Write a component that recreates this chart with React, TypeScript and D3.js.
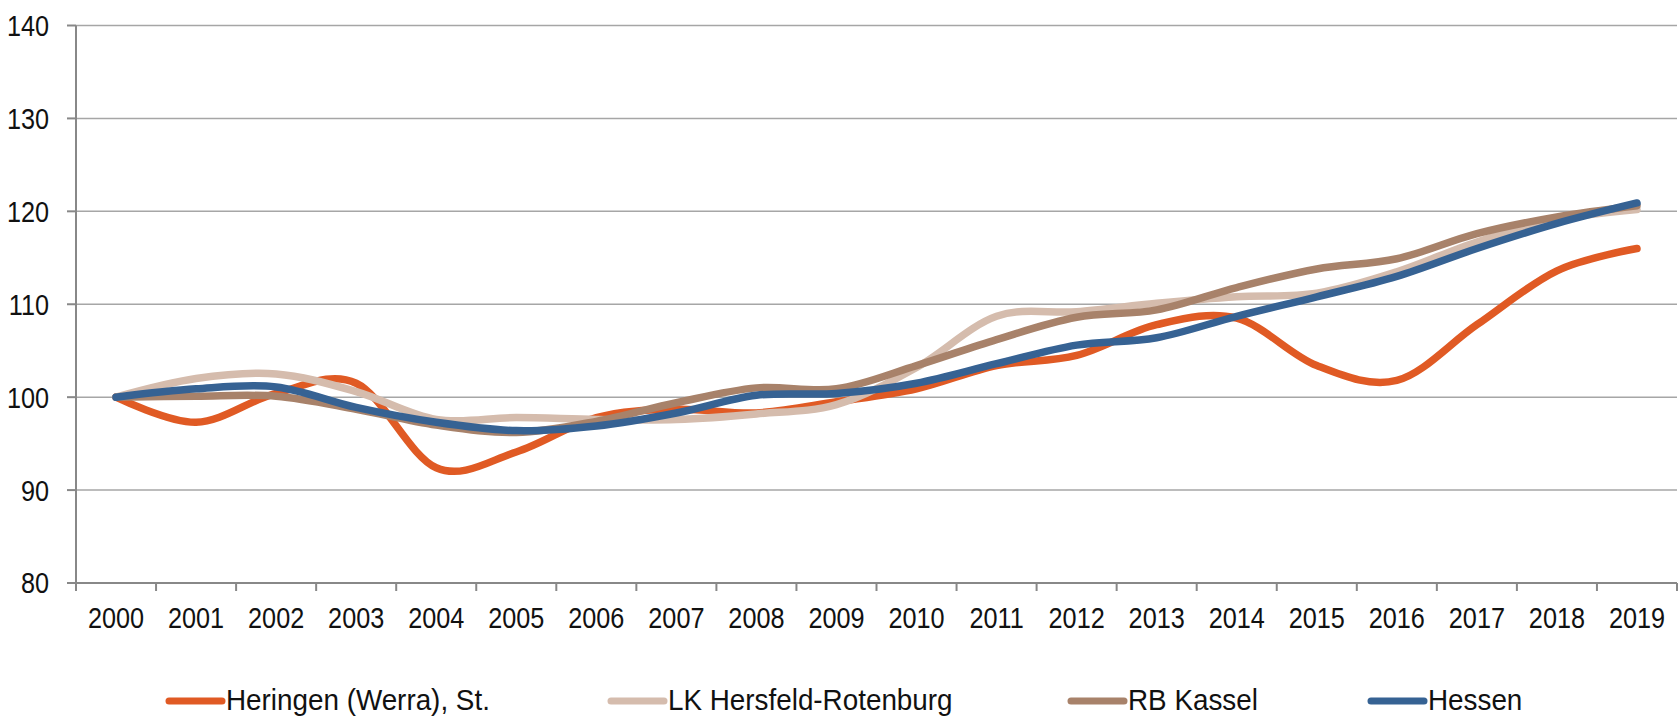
import { useEffect } from "react";
import * as d3 from "d3";

const years = ["2000", "2001", "2002", "2003", "2004", "2005", "2006", "2007", "2008", "2009",
  "2010", "2011", "2012", "2013", "2014", "2015", "2016", "2017", "2018", "2019"];

const heringen = [100, 97.3, 100.4, 101.5, 92.4, 94.1, 97.8, 98.7, 98.3, 99.5,
  100.9, 103.4, 104.5, 107.8, 108.5, 103.4, 101.8, 107.8, 113.6, 116.0];
const hersfeld = [100, 102.0, 102.5, 100.6, 97.6, 97.8, 97.6, 97.6, 98.2, 99.2,
  103.2, 108.7, 109.2, 110.1, 110.8, 111.2, 113.5, 116.7, 119.1, 120.2];
const kassel = [100, 100.1, 100.1, 98.7, 97.0, 96.2, 97.4, 99.4, 101.0, 100.9,
  103.4, 106.2, 108.6, 109.4, 111.8, 113.8, 114.9, 117.6, 119.4, 120.6];
const hessen = [100, 100.9, 101.1, 98.9, 97.3, 96.4, 96.9, 98.3, 100.2, 100.4,
  101.5, 103.6, 105.6, 106.4, 108.7, 110.8, 113.0, 116.0, 118.7, 120.9];

const seriesNames = ["Heringen (Werra), St.", "LK Hersfeld-Rotenburg", "RB Kassel", "Hessen"];
const seriesColors = ["#e05a24", "#d5bcad", "#a8826a", "#366293"];
const yTicks = [80, 90, 100, 110, 120, 130, 140];

const W = 1679, H = 724;
const font = '"Liberation Sans", Arial, sans-serif';

// text squeezed horizontally around its anchor point (narrow look)
function Label({ x, y, anchor = "start", dy = "0", squeeze = 0.87, children }: any) {
  return (
    <text transform={`translate(${x},${y}) scale(${squeeze},1)`} dy={dy} textAnchor={anchor}
      fontSize={29} fill="#111">{children}</text>
  );
}

export default function App() {
  useEffect(() => {
    document.body.style.margin = "0";
  }, []);

  const x = d3.scaleBand().domain(years).range([76, 1677]);
  const y = d3.scaleLinear().domain([80, 140]).range([583, 25.5]);
  const cx = (yr: string) => (x(yr) as number) + x.bandwidth() / 2;

  const line = d3.line<number>()
    .x((_, i) => cx(years[i]))
    .y((d) => y(d))
    .curve(d3.curveCardinal.tension(0));

  const data = [heringen, hersfeld, kassel, hessen];
  const legendX = [166, 608, 1068, 1368];
  const boundaries = years.map((yr) => x(yr) as number).concat([1677]);

  return (
    <svg width={W} height={H} style={{ display: "block", background: "#fff" }} fontFamily={font}>
      {yTicks.map((t) => (
        <g key={t}>
          {t !== 80 && <line x1={76} x2={1677} y1={y(t)} y2={y(t)} stroke="#a6a6a6" strokeWidth={1.5} />}
          <line x1={67} x2={76} y1={y(t)} y2={y(t)} stroke="#888" strokeWidth={2} />
          <Label x={49} y={y(t)} dy="0.36em" anchor="end">{t}</Label>
        </g>
      ))}
      <line x1={76} x2={76} y1={y(140)} y2={y(80)} stroke="#888" strokeWidth={2} />
      <line x1={67} x2={1677} y1={y(80)} y2={y(80)} stroke="#888" strokeWidth={2} />
      {boundaries.map((bx, i) => (
        <line key={i} x1={bx} x2={bx} y1={y(80)} y2={y(80) + 8} stroke="#888" strokeWidth={2} />
      ))}
      {years.map((yr) => (
        <Label key={yr} x={cx(yr)} y={628} anchor="middle">{yr}</Label>
      ))}
      {data.map((d, i) => (
        <path key={i} d={line(d) || ""} fill="none" stroke={seriesColors[i]} strokeWidth={7.5}
          strokeLinecap="round" strokeLinejoin="round" />
      ))}
      {seriesNames.map((name, i) => (
        <g key={name}>
          <line x1={legendX[i] + 3} x2={legendX[i] + 56} y1={701} y2={701} stroke={seriesColors[i]}
            strokeWidth={7} strokeLinecap="round" />
          <Label x={legendX[i] + 60} y={710} squeeze={0.96}>{name}</Label>
        </g>
      ))}
    </svg>
  );
}
